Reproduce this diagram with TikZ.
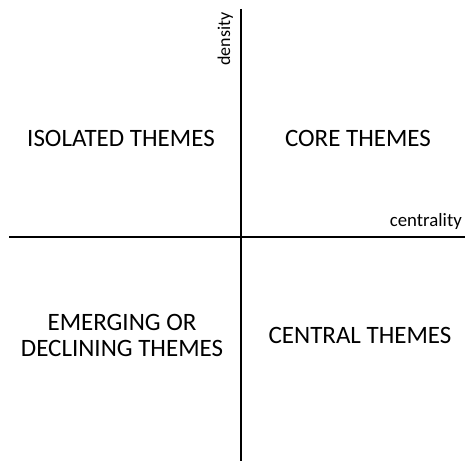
\documentclass[tikz,border=0pt]{standalone}
\usepackage{fontspec}
\setmainfont{Carlito}
\begin{document}
\begin{tikzpicture}[x=1bp,y=-1bp,
  axis/.style={line width=2bp,black},
  quad/.style={font=\fontsize{25bp}{26bp}\selectfont,anchor=base,align=center,inner sep=0pt},
  axlabel/.style={font=\fontsize{18bp}{20bp}\selectfont,inner sep=0pt}]
\useasboundingbox (0,0) rectangle (465,461);
\coordinate (vtop) at (241,9);
\coordinate (vbot) at (241,461);
\coordinate (hleft) at (9,236.5);
\coordinate (hright) at (465,236.5);
\draw[axis] (vtop) -- (vbot);
\draw[axis] (hleft) -- (hright);
\node[axlabel,rotate=90,anchor=base] (density) at (230,39) {density};
\node[axlabel,anchor=base east,font=\fontsize{18.8bp}{20bp}\selectfont] (centrality) at (462,227) {centrality};
\node[quad] (isolated) at (121,146.7) {ISOLATED THEMES};
\node[quad] (core) at (358,146.7) {CORE THEMES};
\node[quad,anchor=base] (emerging) at (122,356.7) {EMERGING OR\\DECLINING THEMES};
\node[quad] (central) at (360,343) {CENTRAL THEMES};
\end{tikzpicture}
\end{document}
